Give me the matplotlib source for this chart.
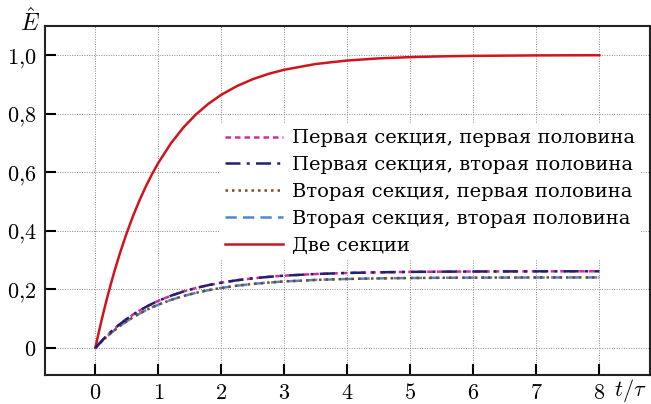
import matplotlib
matplotlib.use("Agg")
import matplotlib.pyplot as plt
from matplotlib.ticker import FixedLocator, FuncFormatter

plt.rcParams['mathtext.fontset'] = 'cm'
plt.rcParams['font.family'] = ['DejaVu Serif']

t = [0, 0.05, 0.1, 0.15, 0.2, 0.25, 0.3, 0.35, 0.4, 0.5, 0.6, 0.7, 0.8, 0.9,
     1.0, 1.2, 1.4, 1.6, 1.8, 2.0, 2.25, 2.5, 2.75, 3.0, 3.5, 4.0, 4.5, 5.0,
     5.5, 6.0, 7.0, 8.0]

two_sections = [0, 0.0488, 0.0952, 0.1393, 0.1813, 0.2212, 0.2592, 0.2953,
                0.3297, 0.3935, 0.4512, 0.5034, 0.5507, 0.5934, 0.6321,
                0.6988, 0.7534, 0.7981, 0.8347, 0.8647, 0.8946, 0.9179,
                0.9361, 0.9502, 0.9698, 0.9817, 0.9889, 0.9933, 0.9959,
                0.9975, 0.9991, 0.9997]

first_section = [0, 0.0122, 0.0238, 0.0349, 0.0455, 0.0555, 0.0651, 0.0743,
                 0.0831, 0.0993, 0.114, 0.1275, 0.1397, 0.1508, 0.161,
                 0.1784, 0.1929, 0.205, 0.2148, 0.223, 0.2313, 0.2378,
                 0.2429, 0.247, 0.2526, 0.2562, 0.2584, 0.2598, 0.2606,
                 0.2611, 0.2617, 0.2619]

second_section = [0, 0.0112, 0.0219, 0.0321, 0.0418, 0.0511, 0.0599, 0.0683,
                  0.0764, 0.0913, 0.1049, 0.1173, 0.1285, 0.1387, 0.148,
                  0.1641, 0.1775, 0.1885, 0.1976, 0.2051, 0.2127, 0.2187,
                  0.2234, 0.2272, 0.2324, 0.2357, 0.2377, 0.2389, 0.2397,
                  0.2402, 0.2407, 0.2409]

labels = ["Первая секция, первая половина",
          "Первая секция, вторая половина",
          "Вторая секция, первая половина",
          "Вторая секция, вторая половина",
          "Две секции"]

xticks = [0, 1, 2, 3, 4, 5, 6, 7, 8]
yticks = [0, 0.2, 0.4, 0.6, 0.8, 1.0]

fig = plt.figure(figsize=(6.51, 4.04), dpi=100)
ax = fig.add_axes([0.069, 0.072, 0.929, 0.864])

ax.plot(t, first_section, color='#d42a9e', lw=1.8, ls=(0, (2.2, 1.6)), label=labels[0], zorder=3)
ax.plot(t, first_section, color='#23206e', lw=1.8, ls=(0, (6, 2.5, 1.2, 2.5)), label=labels[1], zorder=4)
ax.plot(t, second_section, color='#7a4a1c', lw=1.8, ls=(0, (1.0, 1.6)), label=labels[2], zorder=3)
ax.plot(t, second_section, color='#4f86d2', lw=1.8, ls=(0, (4.5, 2.5)), label=labels[3], zorder=2)
ax.plot(t, two_sections, color='#d0141c', lw=1.8, label=labels[4], zorder=3)

ax.set_xlim(-0.8, 8.8)
ax.set_ylim(-0.092, 1.1)
ax.xaxis.set_major_locator(FixedLocator(xticks))
ax.yaxis.set_major_locator(FixedLocator(yticks))
ax.xaxis.set_major_formatter(FuncFormatter(lambda v, p: r'$%d$' % round(v)))
def yfmt(v, p):
    if abs(v) < 1e-9:
        return r'$0$'
    return (r'$%.1f$' % v).replace('.', '{,}')
ax.yaxis.set_major_formatter(FuncFormatter(yfmt))

ax.grid(True, ls=(0, (1, 1.5)), color='#888888', lw=0.7)
ax.tick_params(direction='in', length=8, width=1.5, labelsize=16, top=False, right=False)
ax.tick_params(axis='x', pad=5)
ax.tick_params(axis='y', pad=6)
for s in ax.spines.values():
    s.set_linewidth(1.5)
    s.set_color('#222222')

fig.text(30/651, 1 - 22/404, r'$\hat{E}$', fontsize=17, ha='center', va='center')
fig.text(630/651, 1 - 390/404, r'$t/\tau$', fontsize=16, ha='center', va='center')

leg = ax.legend(loc='upper right', bbox_to_anchor=(0.985, 0.72), borderaxespad=0,
                prop={'family': 'DejaVu Serif', 'size': 14},
                frameon=True, facecolor='white', edgecolor='none', framealpha=1,
                handlelength=3.0, handletextpad=0.45, labelspacing=0.45,
                borderpad=0.3, fancybox=False)

fig.savefig('out.png', dpi=100)
